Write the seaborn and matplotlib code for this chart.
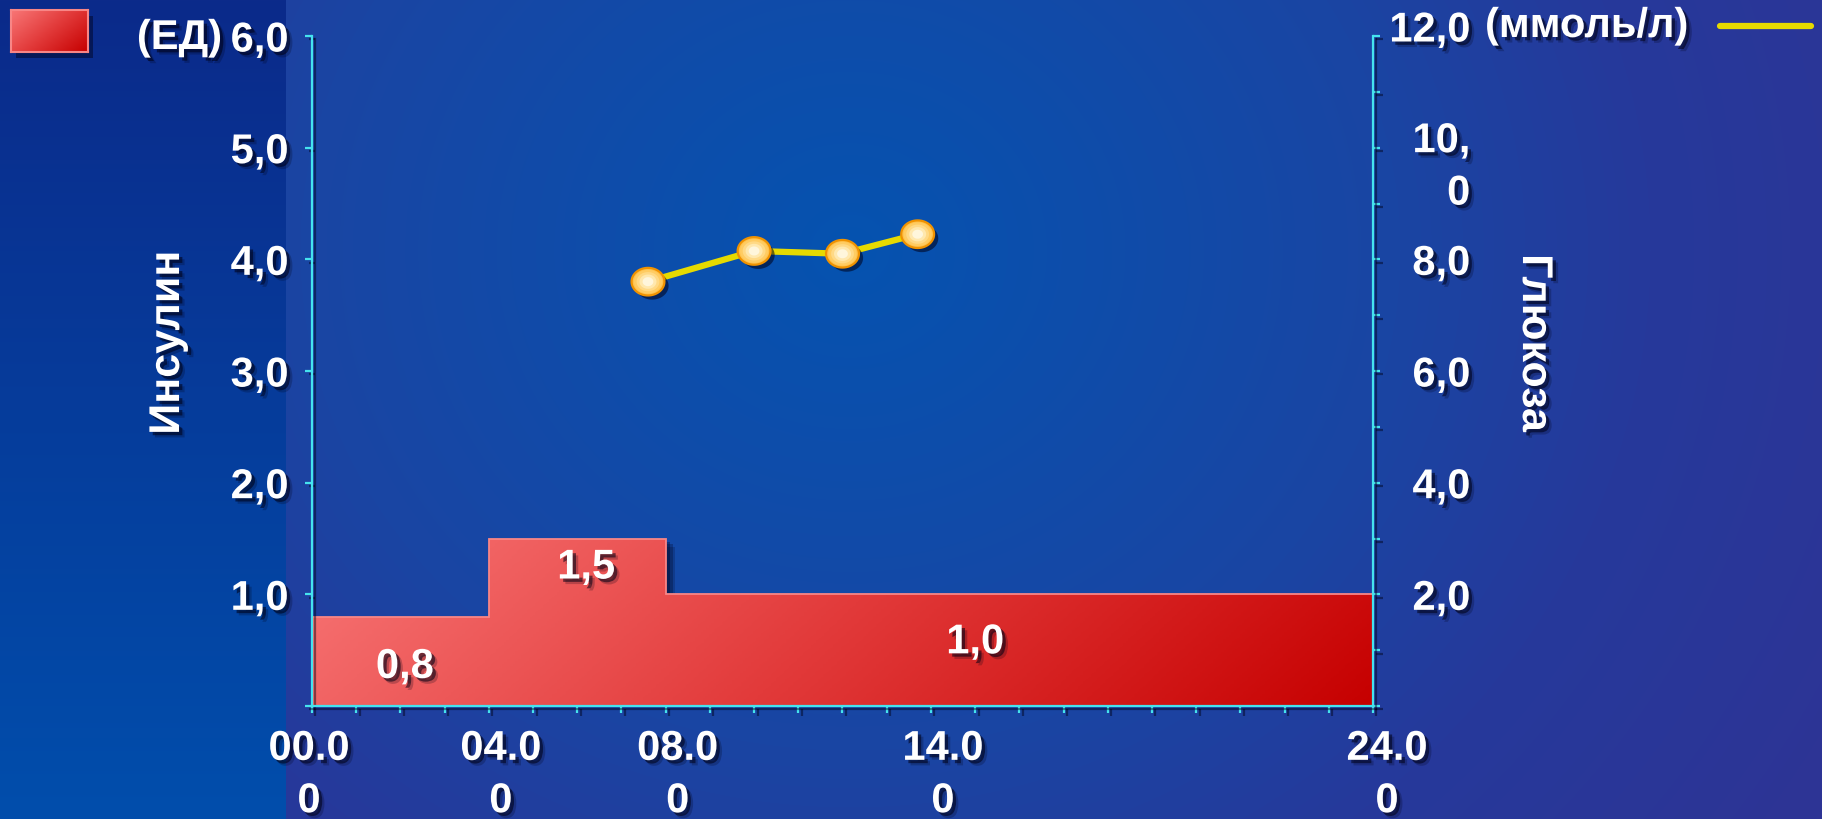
import numpy as np
import matplotlib
matplotlib.use("Agg")
import matplotlib.pyplot as plt
import matplotlib.patheffects as pe
from matplotlib.colors import LinearSegmentedColormap
from matplotlib.path import Path
from matplotlib.patches import Rectangle
from matplotlib.lines import Line2D
from matplotlib.transforms import ScaledTranslation
import seaborn as sns

# Basal insulin rate (units/hour) over the day
insulin_edges = [0, 4, 8, 24]
insulin_rates = [0.8, 1.5, 1.0]

# Blood glucose readings (hour of day, mmol/l)
glucose_hours = [7.6, 10.0, 12.0, 13.7]
glucose_values = [7.6, 8.15, 8.1, 8.45]

# Axis ticks and labels
hour_ticks = [0, 4, 8, 14, 24]
hour_labels = ["00.0\n0", "04.0\n0", "08.0\n0", "14.0\n0", "24.0\n0"]
insulin_ticks = [0, 1, 2, 3, 4, 5, 6]
insulin_tick_labels = ["", "1,0", "2,0", "3,0", "4,0", "5,0", "6,0"]
glucose_ticks = list(range(0, 13))
glucose_tick_labels = ["", "", "2,0", "", "4,0", "", "6,0", "", "8,0", "",
                       "10,\n0", "", "12,0"]

# Where the rate values are written inside the insulin area (hour, units)
rate_label_xy = [(2.1, 0.35), (6.2, 1.24), (15.0, 0.57)]

W, H, DPI = 1822, 819, 100
CYAN = "#45E3EE"
YELLOW = "#E6DA00"
FS = 30

sns.set_theme(style="ticks")
plt.rcParams["font.family"] = ["Liberation Sans", "DejaVu Sans"]
plt.rcParams["font.weight"] = "bold"

txt_fx = [pe.SimplePatchShadow(offset=(4, -4), shadow_rgbFace="#000014", alpha=0.22),
          pe.SimplePatchShadow(offset=(2.4, -2.4), shadow_rgbFace="#000014", alpha=0.55),
          pe.Normal()]
line_fx = [pe.SimpleLineShadow(offset=(2.5, -2.5), shadow_color="#000014", alpha=0.45),
           pe.Normal()]

fig = plt.figure(figsize=(W / DPI, H / DPI), dpi=DPI)


def hex2rgb(h):
    return np.array([int(h[i:i + 2], 16) / 255 for i in (1, 3, 5)])


# Slide background: radial blue glow with a darker strip on the left
bg = fig.add_axes([0, 0, 1, 1], zorder=-10)
bg.set_axis_off()
yy, xx = np.mgrid[0:H, 0:W]
dist = np.hypot(xx - 850, (yy - 250) * 1.1)
stop_d = [0, 550, 800, 1150]
stop_c = [hex2rgb(c) for c in ["#0553B0", "#1A45A3", "#26399B", "#2E3495"]]
img = np.zeros((H, W, 3))
for k in range(3):
    img[..., k] = np.interp(dist, stop_d, [c[k] for c in stop_c])
top_c, bot_c = hex2rgb("#0B2A8A"), hex2rgb("#014EAC")
t = yy / H
strip = xx < 286
for k in range(3):
    img[..., k] = np.where(strip, top_c[k] + (bot_c[k] - top_c[k]) * t, img[..., k])
bg.imshow(img, extent=[0, 1, 0, 1], aspect="auto", origin="upper", interpolation="nearest")

# Main axes (insulin, left) and twin axes (glucose, right)
ax = fig.add_axes([312 / W, (H - 706) / H, 1061 / W, 670 / H])
ax.patch.set_alpha(0)

# Insulin area: shadow, gradient fill clipped to the step shape, outline
for off, a in [((7, -6), 0.18), ((5, -4), 0.25), ((3, -2.5), 0.3)]:
    ax.stairs(insulin_rates, insulin_edges, baseline=0, fill=True,
              facecolor="none", edgecolor="none", zorder=1.5,
              path_effects=[pe.SimplePatchShadow(offset=off, shadow_rgbFace="#000018", alpha=a)])
step = ax.stairs(insulin_rates, insulin_edges, baseline=0, fill=True,
                 facecolor="none", edgecolor="none", zorder=2)
red_cmap = LinearSegmentedColormap.from_list("insulin", ["#F87676", "#E23A3A", "#C60000"])
gy, gx = np.mgrid[0:100, 0:400]
grad = (gx / 399) * 0.85 + (gy / 99) * 0.15
im = ax.imshow(grad, cmap=red_cmap, extent=[0, 24, 0, max(insulin_rates) + 0.1],
               origin="upper", aspect="auto", zorder=2.1, interpolation="bilinear")
im.set_clip_path(step)
ax.stairs(insulin_rates, insulin_edges, baseline=0, fill=False,
          edgecolor="#F88686", linewidth=1.3, zorder=2.2)

for (x, y), v in zip(rate_label_xy, insulin_rates):
    ax.text(x, y, f"{v:.1f}".replace(".", ","), ha="center", va="center",
            fontsize=FS, color="white", fontweight="bold", zorder=4, path_effects=txt_fx)

ax.set_xlim(0, 24)
ax.set_ylim(0, 6)
ax.set_xticks(hour_ticks, labels=hour_labels)
ax.set_xticks(np.arange(0, 25, 1), minor=True)
ax.set_yticks(insulin_ticks, labels=insulin_tick_labels)
ax.tick_params(axis="x", which="both", direction="out", length=5, width=1.6,
               color=CYAN, pad=10, labelsize=FS, labelcolor="white")
ax.tick_params(axis="y", which="major", direction="out", length=5, width=1.6,
               color=CYAN, pad=12, labelsize=FS, labelcolor="white")
for side in ["top", "right"]:
    ax.spines[side].set_visible(False)
for side in ["left", "bottom"]:
    ax.spines[side].set_color(CYAN)
    ax.spines[side].set_linewidth(1.6)
    ax.spines[side].set_path_effects(line_fx)
ax.set_ylabel("Инсулин", fontsize=FS + 1, color="white", fontweight="bold",
              va="center", ha="center", path_effects=txt_fx)
ax.yaxis.set_label_coords(-0.1357, 0.542)

ax2 = ax.twinx()
ax2.set_ylim(0, 12)
sns.lineplot(x=glucose_hours, y=glucose_values, ax=ax2, color=YELLOW,
             linewidth=4.5, errorbar=None, sort=False, zorder=3)

# Elliptical markers with a radial highlight built from stacked layers
theta = np.linspace(0, 2 * np.pi, 61)
ellipse = Path(np.column_stack([0.5 * np.cos(theta), 0.42 * np.sin(theta)]), closed=True)
layers = [(560, "#FFC24C"), (410, "#FFCC62"), (270, "#FFD985"),
          (150, "#FFE8AE"), (60, "#FFF6DC")]
for i, (s, c) in enumerate(layers):
    kw = dict(edgecolor="#F09200", linewidth=1.6,
              path_effects=[pe.SimplePatchShadow(offset=(3, -3), shadow_rgbFace="#000018", alpha=0.55),
                            pe.Normal()]) if i == 0 else dict(edgecolor="none", linewidth=0)
    sns.scatterplot(x=glucose_hours, y=glucose_values, ax=ax2, marker=ellipse,
                    s=s, color=c, zorder=4 + i * 0.1, legend=False, **kw)

ax2.set_xlim(0, 24)
ax2.set_yticks(glucose_ticks, labels=glucose_tick_labels)
ax2.tick_params(axis="y", which="major", direction="out", length=5, width=1.6,
                color=CYAN, pad=65, labelsize=FS, labelcolor="white")
for side in ["top", "left", "bottom"]:
    ax2.spines[side].set_visible(False)
ax2.spines["right"].set_color(CYAN)
ax2.spines["right"].set_linewidth(1.6)
ax2.spines["right"].set_path_effects(line_fx)
ax2.set_ylabel("Глюкоза", fontsize=FS + 1, color="white", fontweight="bold",
               rotation=-90, va="center", ha="center", path_effects=txt_fx)
ax2.yaxis.set_label_coords(1.1517, 0.542)

# Two-line labels get wider spacing; small nudges for the hour labels
for tick in ax2.yaxis.get_major_ticks():
    lbl = tick.label2
    lbl.set_horizontalalignment("right")
    lbl.set_multialignment("right")
    lbl.set_linespacing(1.4)
    txt = lbl.get_text()
    if "\n" in txt:
        lbl.set_transform(lbl.get_transform() + ScaledTranslation(0, -0.09, fig.dpi_scale_trans))
    elif txt == "12,0":
        lbl.set_transform(lbl.get_transform() + ScaledTranslation(0, 0.1, fig.dpi_scale_trans))

hour_label_dx = [-0.03, 0.12, 0.12, 0.12, 0.14]
for tick, dx in zip(ax.xaxis.get_major_ticks(), hour_label_dx):
    lbl = tick.label1
    lbl.set_multialignment("center")
    lbl.set_linespacing(1.4)
    lbl.set_transform(lbl.get_transform() + ScaledTranslation(dx, -0.02, fig.dpi_scale_trans))

for lbl in ax.get_xticklabels() + ax.get_yticklabels() + ax2.get_yticklabels():
    lbl.set_path_effects(txt_fx)
    lbl.set_fontweight("bold")
for tk in (ax.xaxis.get_major_ticks() + ax.xaxis.get_minor_ticks()
           + ax.yaxis.get_major_ticks()):
    tk.tick1line.set_path_effects(line_fx)
for tk in ax2.yaxis.get_major_ticks():
    tk.tick2line.set_path_effects(line_fx)

# Units next to the top tick labels
fig.text(222 / W, 1 - 38 / H, "(ЕД)", ha="right", va="center", fontsize=FS,
         color="white", fontweight="bold", path_effects=txt_fx)
fig.text(1485 / W, 1 - 26 / H, "(ммоль/л)", ha="left", va="center", fontsize=FS,
         color="white", fontweight="bold", path_effects=txt_fx)

# Series keys in the top corners
fig.patches.append(Rectangle((16 / W, 1 - 58 / H), 77 / W, 42 / H, transform=fig.transFigure,
                             facecolor="#000018", alpha=0.45, edgecolor="none", zorder=1))
key_ax = fig.add_axes([11 / W, 1 - 52 / H, 77 / W, 42 / H], zorder=2)
kg_y, kg_x = np.mgrid[0:40, 0:80]
key_ax.imshow((kg_x / 79) * 0.6 + (kg_y / 39) * 0.4, cmap=red_cmap, aspect="auto",
              origin="upper", interpolation="bilinear")
key_ax.set_xticks([])
key_ax.set_yticks([])
for sp in key_ax.spines.values():
    sp.set_color("#F88686")
    sp.set_linewidth(1.5)
fig.lines.append(Line2D([1720 / W, 1811 / W], [1 - 26 / H, 1 - 26 / H],
                        transform=fig.transFigure, color=YELLOW, linewidth=4.5))

fig.savefig("out.png", dpi=DPI)
